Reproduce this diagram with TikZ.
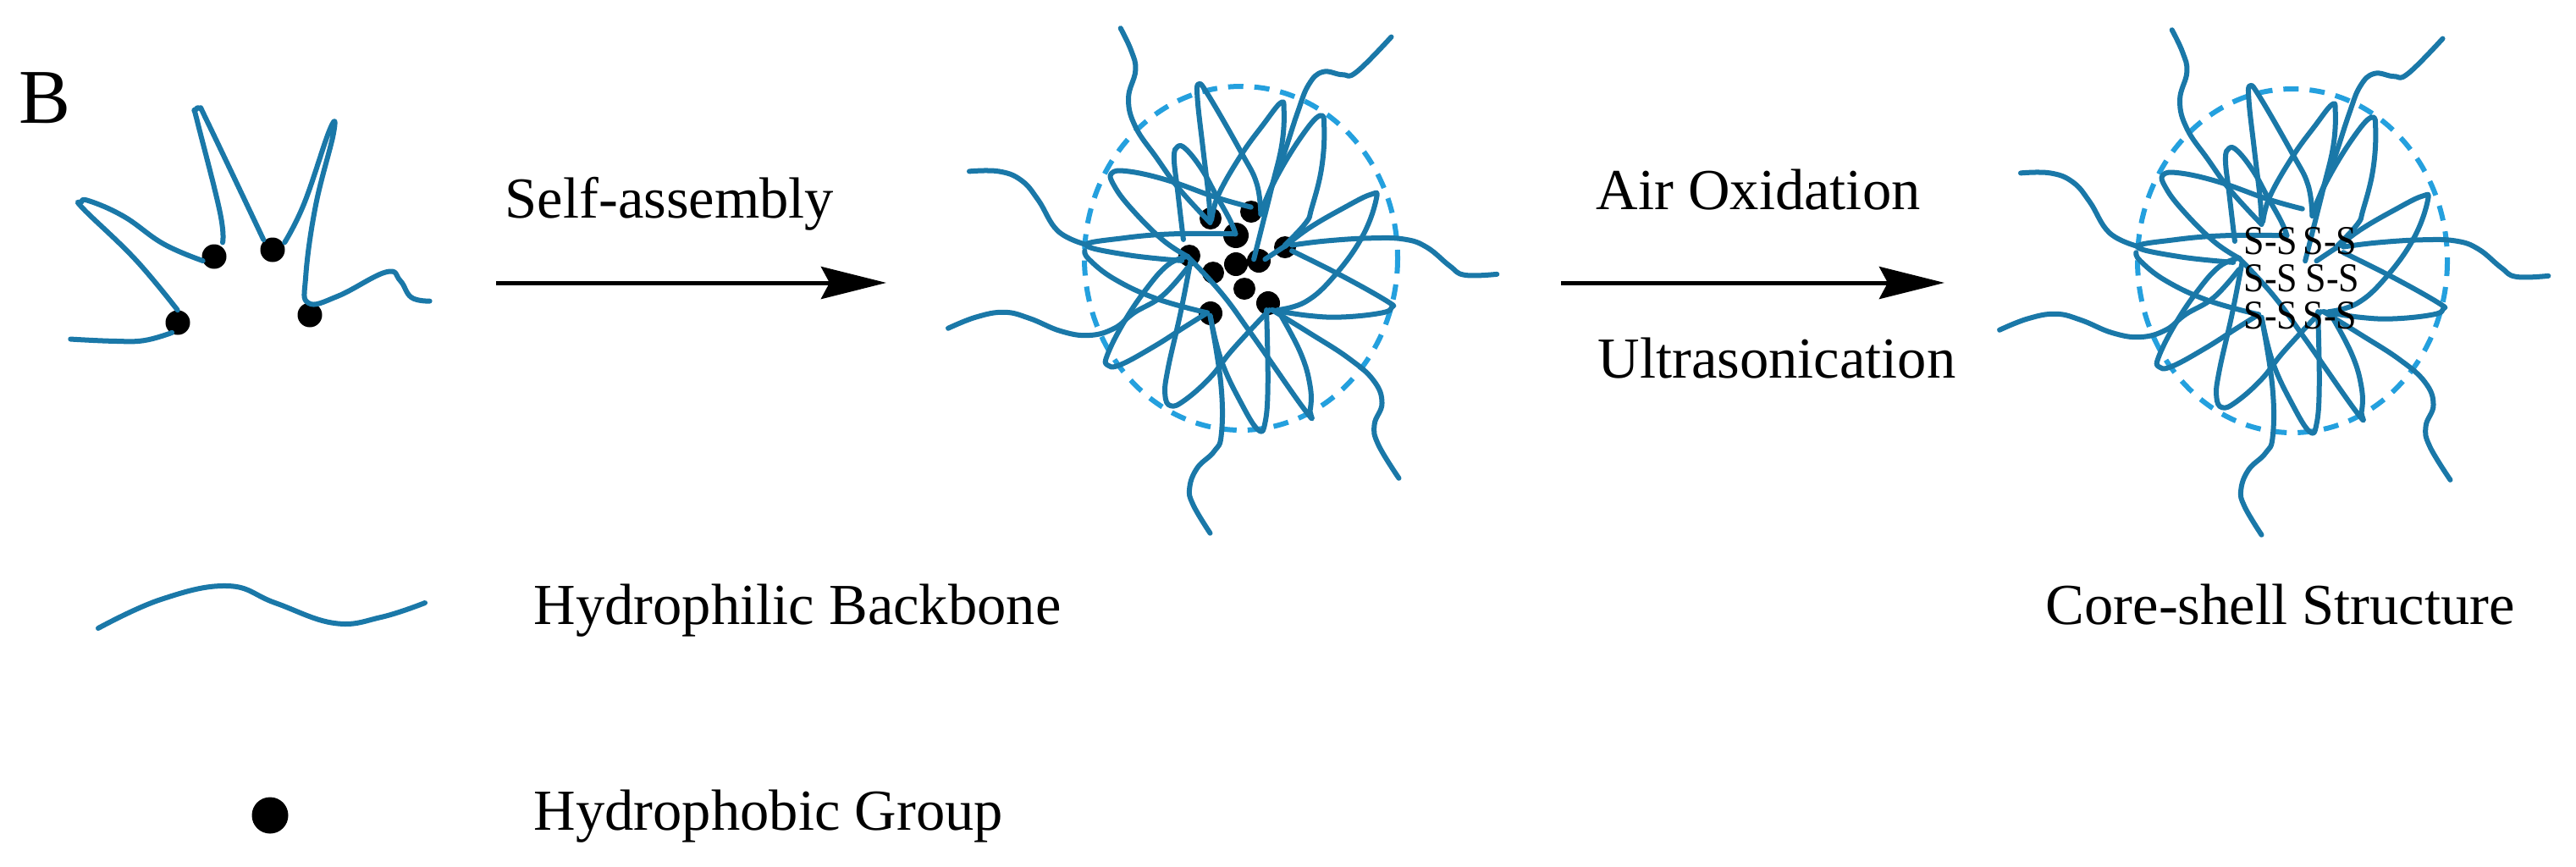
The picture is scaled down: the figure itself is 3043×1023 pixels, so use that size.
\documentclass[tikz,border=0pt]{standalone}
\usepackage{fontspec}
\setmainfont{Liberation Serif}
\usetikzlibrary{arrows.meta}
\definecolor{chainblue}{RGB}{26,120,168}
\definecolor{shellblue}{RGB}{36,160,222}
\tikzset{
 chain/.style={draw=chainblue,line width=0.06cm,line cap=round,line join=round},
 shell/.style={draw=shellblue,line width=0.06cm,dash pattern=on 0.18cm off 0.13cm},
 lab/.style={anchor=base west,inner sep=0pt,font=\fontsize{19.5}{23}\selectfont},
 disulfide/.style={anchor=west,inner sep=0pt,transform shape,yscale=1.1,font=\fontsize{12.5}{14}\selectfont},
 flow/.style={draw=black,line width=0.05cm,-{Stealth[length=0.77cm,width=0.38cm,inset=0.1cm]}},
}
\newcommand{\arm}[1]{\draw[chain] plot[smooth,tension=0.7] coordinates {#1};}
% one micelle, coordinates read off the left particle
\newcommand{\micellechains}{
 \arm{(930,730) (925,640) (905,470) (885,290) (890,238) (925,280) (1040,480) (1095,590) (1110,700)}
 \arm{(935,720) (960,630) (1040,490) (1120,380) (1180,305) (1192,330) (1185,450) (1150,600) (1105,780) (1085,860)}
 \arm{(1110,700) (1160,580) (1250,430) (1320,350) (1335,400) (1325,540) (1290,680) (1270,730) (1195,810)}
 \arm{(835,790) (815,620) (802,500) (815,460) (845,470) (900,540) (950,630) (1000,720) (1020,770)}
 \arm{(1075,675) (950,640) (780,580) (640,548) (580,555) (590,600) (650,680) (760,790) (850,850)}
 \arm{(850,850) (970,980) (1080,1130) (1270,1400) (1285,1395) (1285,1310) (1250,1190) (1170,1040)}
 \arm{(1020,770) (800,770) (620,785) (490,810) (640,845) (830,865)}
 \arm{(485,830) (500,860) (590,930) (740,1000) (920,1050)}
 \arm{(850,850) (780,880) (700,970) (620,1090) (565,1200) (565,1235) (610,1235) (730,1170) (840,1100) (920,1050)}
 \arm{(860,870) (825,1050) (780,1250) (770,1340) (790,1380) (840,1360) (930,1280) (1010,1180) (1140,1040)}
 \arm{(930,1060) (970,1220) (1040,1370) (1100,1465) (1125,1440) (1135,1300) (1130,1040)}
 \arm{(1220,830) (1400,920) (1560,1010) (1575,1030) (1540,1050) (1400,1065) (1280,1060) (1150,1040)}
 \arm{(1195,815) (1280,750) (1400,680) (1500,630) (1520,645) (1470,780) (1370,920) (1270,1010) (1170,1040)}
 \draw[chain] (1125,860) -- (1200,810);
 % free tails
 \arm{(612,40) (650,120) (665,190) (640,290) (665,390) (740,500) (820,610) (930,730)}
 \arm{(1573,71) (1450,195) (1400,205) (1330,195) (1280,240) (1240,340) (1180,520) (1110,690)}
 \arm{(75,548) (180,548) (260,580) (320,650) (390,760) (490,808)}
 \arm{(0,1105) (100,1065) (200,1048) (290,1070) (400,1115) (500,1130) (590,1105) (660,1050) (760,990) (850,890)}
 \arm{(930,1832) (870,1732) (857,1672) (884,1601) (944,1542) (970,1480) (968,1300) (930,1060)}
 \arm{(1600,1637) (1527,1518) (1513,1447) (1540,1370) (1510,1290) (1420,1210) (1280,1120) (1150,1040)}
 \arm{(1948,913) (1834,916) (1781,884) (1700,818) (1620,789) (1500,785) (1340,795) (1220,810)}
}
\begin{document}
\begin{tikzpicture}[x=0.01cm,y=-0.01cm]
 \useasboundingbox (0,0) rectangle (3043,1023);
 \node[anchor=base west,inner sep=0pt,font=\fontsize{26}{30}\selectfont] (panel) at (22,145) {B};

 % free polymer
 \foreach \gx/\gy in {253/303,322/295,210/381,366/372} \fill (\gx,\gy) circle (14.5);
 \begin{scope}[shift={(60,110)},x=0.003333cm,y=-0.003333cm]
  \arm{(70,873) (220,880) (330,878) (430,850)}
  \arm{(450,770) (300,590) (115,410) (108,388) (135,382) (260,438) (400,535) (540,595)}
  \arm{(610,530) (600,420) (520,100) (512,65) (530,55) (560,110) (755,520)}
  \arm{(830,530) (900,390) (990,130) (1003,145) (940,400) (905,650) (915,745) (1020,720) (1190,635) (1240,665) (1280,725) (1345,738)}
 \end{scope}

 % micelle with hydrophobic core
 \foreach \gx/\gy/\gr in {1430/258/13,1460/278/15,1478/250/13,1460/312/14,1487/308/14,1470/341/13,1433/322/13,1518/292/13,1405/302/13,1498/358/14,1430/370/14}
  \fill (\gx,\gy) circle (\gr);
 \draw[shell] (1466,305) ellipse (185 and 203);
 \begin{scope}[shift={(1120,20)},x=0.003333cm,y=-0.003333cm]
  \micellechains
 \end{scope}

 % cross-linked micelle
 \draw[shell] (2708,308) ellipse (183 and 203);
 \begin{scope}[shift={(2362,22)},x=0.003333cm,y=-0.003333cm]
  \micellechains
 \end{scope}
 \node[disulfide] (ssa) at (2650,285) {S-S};
 \node[disulfide] (ssb) at (2720,285) {S-S};
 \node[disulfide] (ssc) at (2650,329) {S-S};
 \node[disulfide] (ssd) at (2723,329) {S-S};
 \node[disulfide] (sse) at (2650,373) {S-S};
 \node[disulfide] (ssf) at (2720,373) {S-S};

 % reaction arrows
 \coordinate (assemblyin) at (586,334);
 \coordinate (assemblyout) at (1047,334);
 \coordinate (oxidein) at (1844,334);
 \coordinate (oxideout) at (2297,334);
 \draw[flow] (assemblyin) -- (assemblyout);
 \draw[flow] (oxidein) -- (oxideout);
 \node[lab] (selfassembly) at (596,257) {Self-assembly};
 \node[lab] (airoxidation) at (1885,247) {Air Oxidation};
 \node[lab] (ultrasonic) at (1887,446) {Ultrasonication};

 % legend
 \arm{(116,742) (190,708) (269,692) (325,712) (395,736) (450,729) (502,712)}
 \fill (319,963) circle (21.5);
 \node[lab] (backbone) at (630,737) {Hydrophilic Backbone};
 \node[lab] (group) at (630,980) {Hydrophobic Group};
 \node[lab] (coreshell) at (2416,737) {Core-shell Structure};
\end{tikzpicture}
\end{document}
